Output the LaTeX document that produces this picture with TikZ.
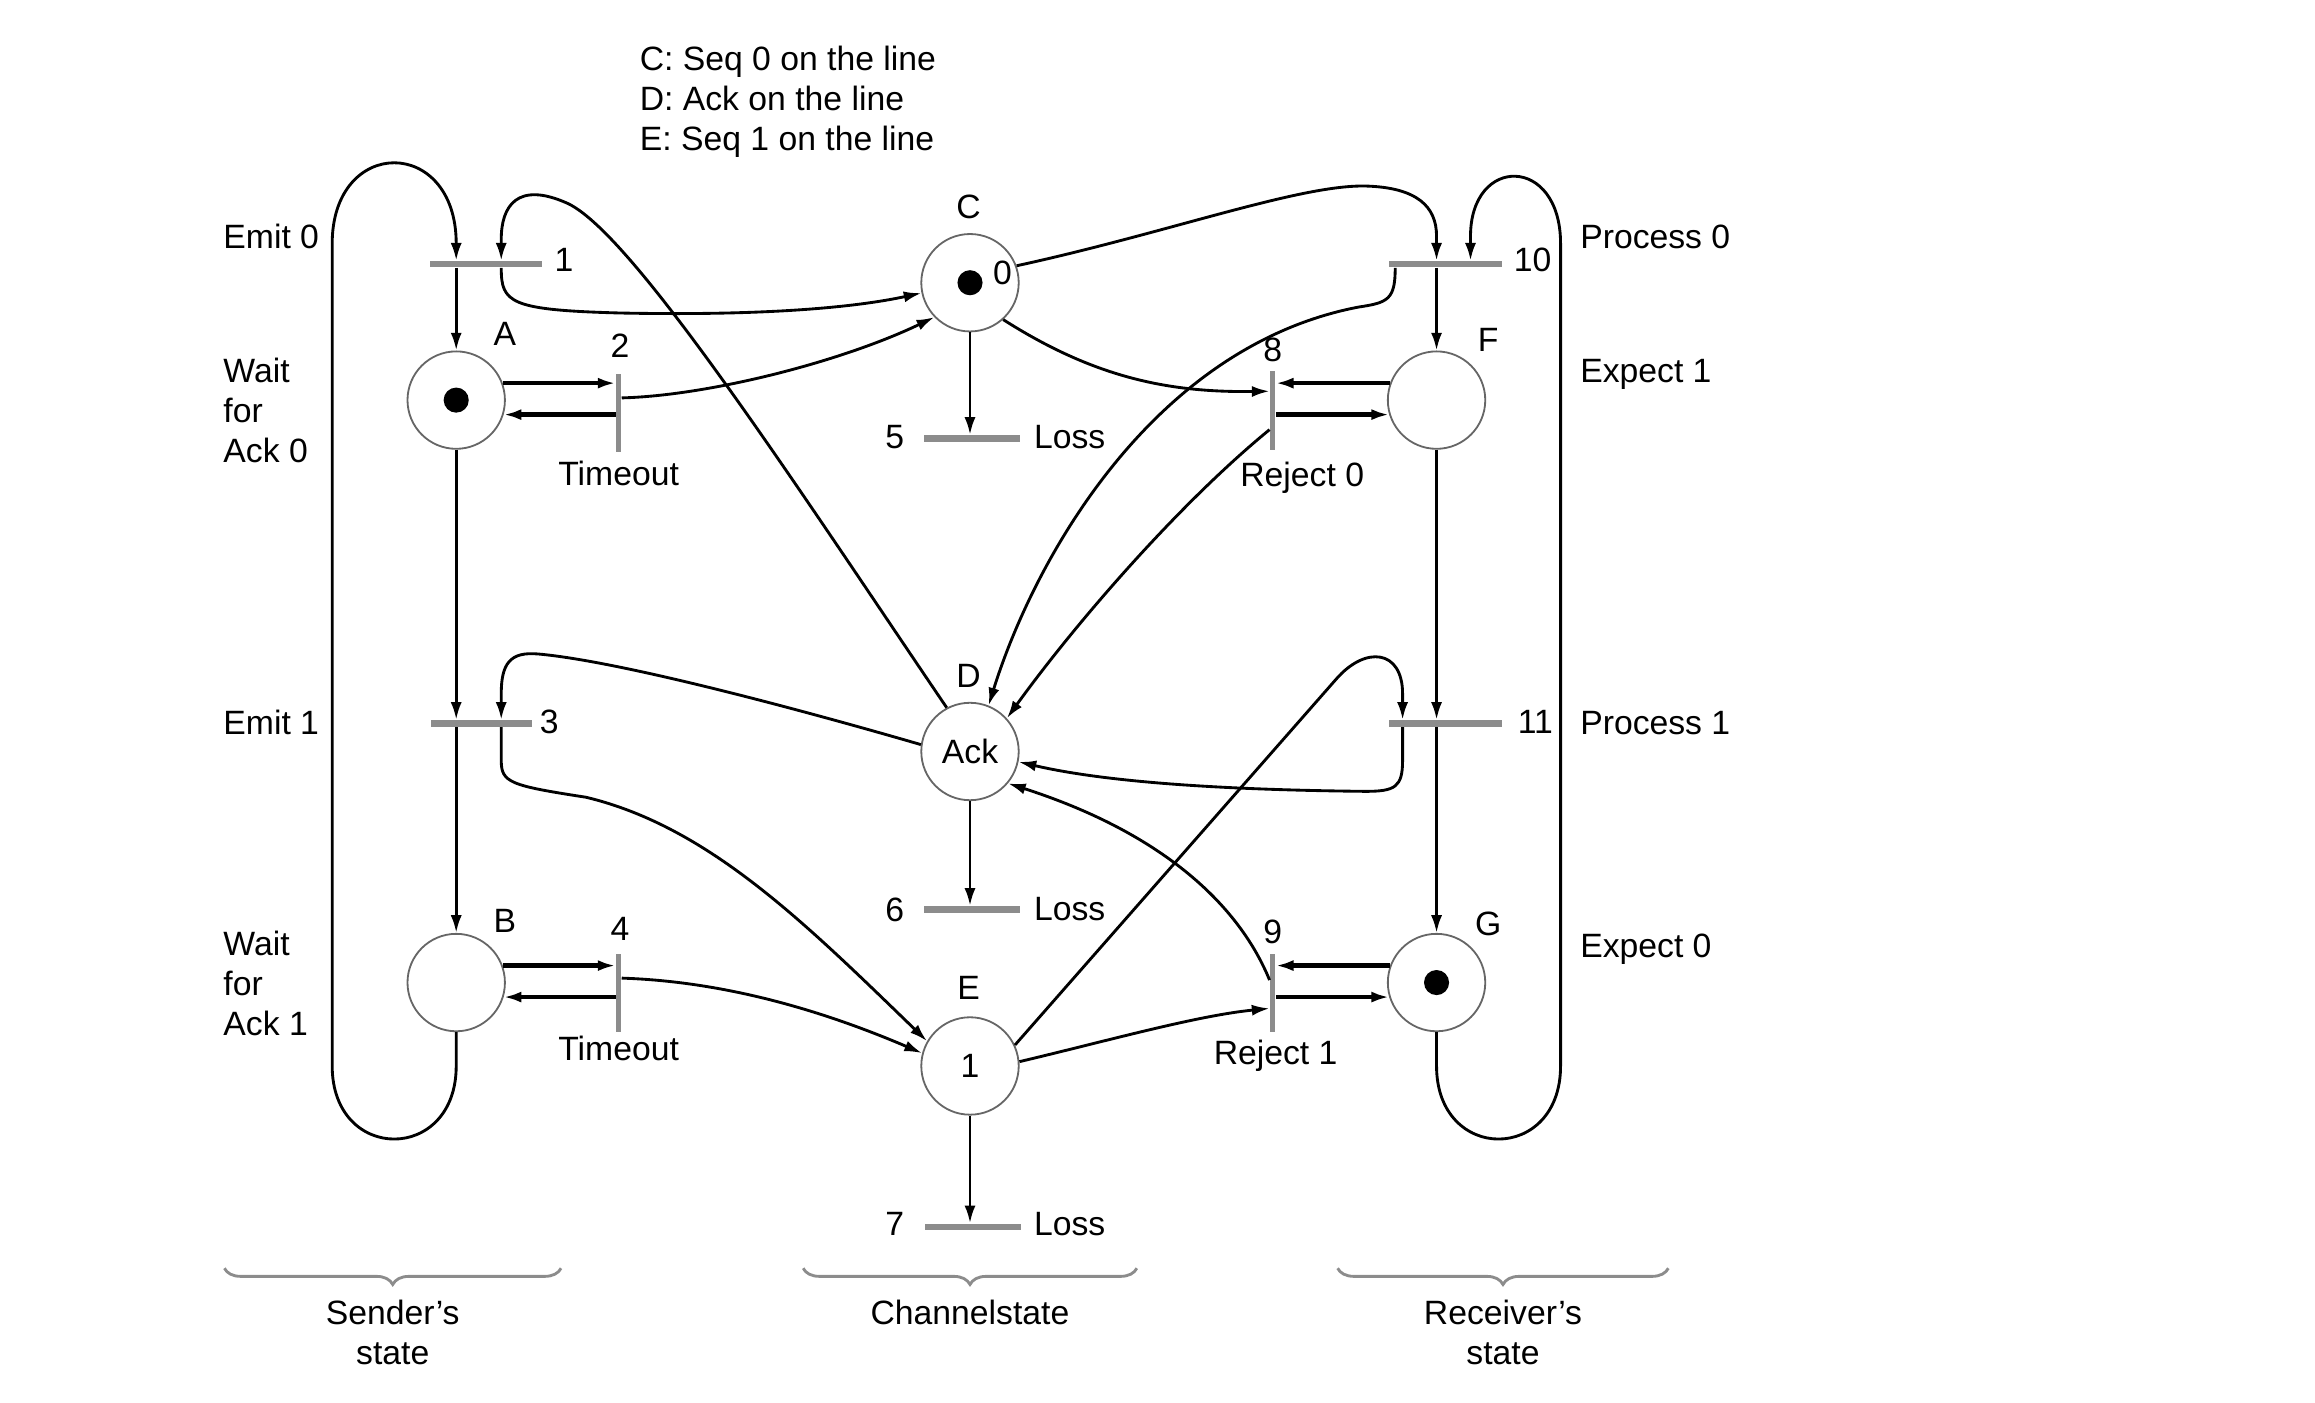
\documentclass[tikz,border=0pt]{standalone}
\usepackage{fontspec}
\setmainfont{Liberation Sans}
\usetikzlibrary{arrows.meta,calc,decorations.pathreplacing}
\begin{document}
\begin{tikzpicture}[x=0.02cm, y=-0.02cm,
  every node/.style={font=\fontsize{13}{15.3}\selectfont, inner sep=0pt},
  place/.style={circle, draw=black!60, line width=0.7pt, minimum size=1.32cm},
  token/.style={circle, fill=black, minimum size=0.34cm},
  hbar/.style={fill=black!45, minimum width=1.52cm, minimum height=2.4pt},
  vbar/.style={fill=black!45, minimum width=2pt, minimum height=1.06cm},
  flow/.style={line width=1.1pt, -{Latex[length=2.4mm,width=1.5mm]}},
  thkflow/.style={flow, line width=1.8pt},
  grpbrace/.style={draw=black!45, line width=1.1pt, decorate, decoration={brace, amplitude=0.22cm}}]
\useasboundingbox (0,0) rectangle (1568,950);
\node[place] (A) at (309,271) {};
\node[place] (B) at (309,665.5) {};
\node[place] (C) at (657,191.5) {};
\node[place] (D) at (657,509) {Ack};
\node[place] (E) at (657,722) {1};
\node[place] (F) at (973,271) {};
\node[place] (G) at (973,665.5) {};
\node[token] (Atok) at (A) {};
\node[token] (Ctok) at (C) {};
\node[token] (Gtok) at (G) {};
\node (C0) at (679,185) {0};
\node[hbar] (t1) at (329,179) {};
\node[hbar, minimum width=1.36cm] (t3) at (326,490) {};
\node[hbar] (t10) at (979,179) {};
\node[hbar] (t11) at (979,490) {};
\node[hbar, minimum width=1.3cm] (t5) at (658.5,297) {};
\node[hbar, minimum width=1.3cm] (t6) at (658.5,616) {};
\node[hbar, minimum width=1.3cm] (t7) at (659,831) {};
\node[vbar] (t2) at (419,279.5) {};
\node[vbar] (t4) at (419,672.5) {};
\node[vbar] (t8) at (862,278) {};
\node[vbar] (t9) at (862,672.5) {};
\draw[flow] (B.south) -- (309,722) .. controls (309,788) and (225,788) .. (225,722)
  -- (225,165) .. controls (225,92) and (309,92) .. (309,165) -- (A |- t1.north);
\draw[flow] (A |- t1.south) -- (A.north);
\draw[flow] (A.south) -- (A |- t3.north);
\draw[flow] (B |- t3.south) -- (B.north);
\draw[flow] (G.south) -- (973,722) .. controls (973,788) and (1057,788) .. (1057,722)
  -- (1057,165) .. controls (1057,105) and (996,105) .. (996,160) -- ($(t10.north)+(17,0)$);
\draw[flow] (F |- t10.south) -- (F.north);
\draw[flow] (F.south) -- (F |- t11.north);
\draw[flow] (G |- t11.south) -- (G.north);
\draw[flow] (C.south) -- (C |- t5.north);
\draw[flow] (D.south) -- (D |- t6.north);
\draw[flow] (E.south) -- (E |- t7.north);
\draw[thkflow] (A.20) -- (A.20 -| t2.west);
\draw[thkflow] (A.-17 -| t2.west) -- (A.-17);
\draw[thkflow] (B.20) -- (B.20 -| t4.west);
\draw[thkflow] (B.-17 -| t4.west) -- (B.-17);
\draw[flow] ($(t2.east)+(0,-10)$) .. controls (480,268) and (570,245) .. (C.224);
\draw[flow] ($(t4.east)+(0,-10)$) .. controls (500,665) and (570,690) .. (E.165);
\draw[thkflow] (F.160) -- (F.160 -| t8.east);
\draw[thkflow] (F.-163 -| t8.east) -- (F.-163);
\draw[thkflow] (G.160) -- (G.160 -| t9.east);
\draw[thkflow] (G.-163 -| t9.east) -- (G.-163);
\draw[flow] (C.-48) .. controls (740,255) and (790,266) .. ($(t8.west)+(0,-13)$);
\draw[flow] ($(t8.west)+(0,13)$) .. controls (800,340) and (730,420) .. (D.42);
\draw[flow] (E.5) .. controls (750,705) and (810,688) .. ($(t9.west)+(0,10.5)$);
\draw[flow] ($(t9.west)+(0,-8.7)$) .. controls (840,615) and (790,565) .. (D.-40);
\draw[flow] (D.118) .. controls (540,330) and (430,160) .. (385,138)
  .. controls (350,122) and (339.5,140) .. (339.5,162) -- ($(t1.north)+(10.5,0)$);
\draw[flow] ($(t1.south)+(10.5,0)$) .. controls (339.5,205) and (345,210) .. (420,212)
  .. controls (520,214) and (580,208) .. (C.192);
\draw[flow] (D.172) .. controls (540,480) and (420,448) .. (365,443)
  .. controls (345,441) and (339.5,450) .. (339.5,470) -- ($(t3.north)+(13.5,0)$);
\draw[flow] ($(t3.south)+(13.5,0)$) -- (339.5,515) .. controls (339.5,530) and (345,532) .. (397,540)
  .. controls (480,560) and (545,625) .. (E.150);
\draw[flow] (C.20) .. controls (790,158) and (880,125) .. (925,126)
  .. controls (960,127) and (973,140) .. (973,160) -- (F |- t10.north);
\draw[flow] ($(t10.south)+(-34,0)$) .. controls (945,203) and (940,205) .. (920,208)
  .. controls (780,235) and (700,380) .. (D.68);
\draw[flow] (E.25) -- (905,460) .. controls (925,437) and (950,440) .. (950,470) -- ($(t11.north)+(-29,0)$);
\draw[flow] ($(t11.south)+(-29,0)$) -- (950,515) .. controls (950,533) and (945,536) .. (925,536)
  .. controls (830,535) and (750,530) .. (D.-12);
\node[anchor=base west] (lgC) at (433,48) {C: Seq 0 on the line};
\node[anchor=base west] (lgD) at (433,75) {D: Ack on the line};
\node[anchor=base west] (lgE) at (433,102) {E: Seq 1 on the line};
\node[anchor=west] (sEmit0) at (151,160) {Emit 0};
\node[anchor=west, align=left] (sWait0) at (151,278) {Wait\\for\\Ack 0};
\node[anchor=west] (sEmit1) at (151,489) {Emit 1};
\node[anchor=west, align=left] (sWait1) at (151,666) {Wait\\for\\Ack 1};
\node[anchor=base west] (rProc0) at (1070,168.3) {Process 0};
\node[anchor=base west] (rExp1) at (1070,259.3) {Expect 1};
\node[anchor=base west] (rProc1) at (1070,497.3) {Process 1};
\node[anchor=base west] (rExp0) at (1070,648.3) {Expect 0};
\node (n1) at (382,176) {1};
\node (n2) at (420,234) {2};
\node (n3) at (372,489) {3};
\node (n4) at (420,629) {4};
\node (n5) at (606,296) {5};
\node (n6) at (606,616) {6};
\node (n7) at (606,829) {7};
\node (n8) at (862,237) {8};
\node (n9) at (862,631) {9};
\node (n10) at (1038,176) {10};
\node (n11) at (1040,489) {11};
\node (lA) at (342,226) {A};
\node (lB) at (342,624) {B};
\node (lC) at (656,140) {C};
\node (lD) at (656,458) {D};
\node (lE) at (656,669) {E};
\node (lF) at (1008,230) {F};
\node (lG) at (1008,626) {G};
\node[anchor=west] (loss5) at (700,296) {Loss};
\node[anchor=west] (loss6) at (700,616) {Loss};
\node[anchor=west] (loss7) at (700,829) {Loss};
\node (to2) at (419,321) {Timeout};
\node (to4) at (419,710) {Timeout};
\node[anchor=base] (rj8) at (882,329.3) {Reject 0};
\node[anchor=base] (rj9) at (864,721.3) {Reject 1};
\draw[grpbrace] (380,859) -- (152,859);
\draw[grpbrace] (770,859) -- (544,859);
\draw[grpbrace] (1130,859) -- (906,859);
\node[align=center] (sst) at (266,902.5) {Sender's\\state};
\node (cst) at (657,889) {Channelstate};
\node[align=center] (rst) at (1018,902.5) {Receiver's\\state};
\end{tikzpicture}
\end{document}
